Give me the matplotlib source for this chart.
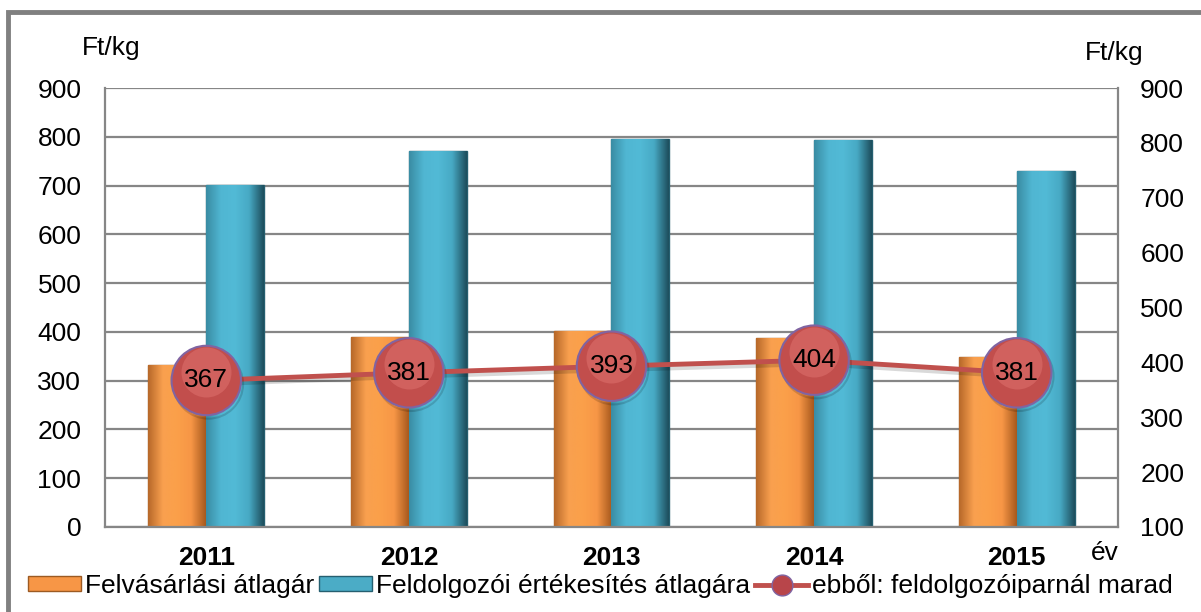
import numpy as np
import matplotlib
matplotlib.use("Agg")
import matplotlib.pyplot as plt
from matplotlib.colors import LinearSegmentedColormap
from matplotlib.lines import Line2D
from matplotlib.patches import Rectangle
import matplotlib.patheffects as pe
import matplotlib.transforms as mtransforms

plt.rcParams['font.family'] = ['Liberation Sans', 'DejaVu Sans']

years = ["2011", "2012", "2013", "2014", "2015"]
felvasarlasi = [332, 390, 401, 388, 348]
feldolgozoi = [701, 771, 795, 793, 730]
maradt = [367, 381, 393, 404, 381]

labels = ["Felvásárlási átlagár", "Feldolgozói értékesítés átlagára",
          "ebből: feldolgozóiparnál marad"]

ORANGE = "#F79646"
BLUE = "#4BACC6"
RED = "#C0504D"
GRID = "#868686"
FS = 19

orange_cmap = LinearSegmentedColormap.from_list(
    "o", ["#B8692A", "#F9A04F", "#FBA04A", "#F79646", "#A85A1E"])
blue_cmap = LinearSegmentedColormap.from_list(
    "b", ["#3A8DA4", "#50B6D2", "#52BAD6", "#47A9C4", "#1E4F5E"])


def shade_bars(ax, bars, cmap):
    grad = np.linspace(0, 1, 64).reshape(1, -1)
    for b in bars:
        x0, y0 = b.get_x(), b.get_y()
        w, h = b.get_width(), b.get_height()
        im = ax.imshow(grad, cmap=cmap, aspect='auto', extent=[x0, x0 + w, y0, y0 + h],
                       zorder=b.get_zorder() + 0.1, interpolation='bicubic')
        im.set_clip_path(b)


fig = plt.figure(figsize=(12.01, 6.12), dpi=100)
ax = fig.add_axes([0.0874, 0.1389, 0.8435, 0.7173])
ax2 = ax.twinx()

x = np.arange(len(years))
w = 0.286
b1 = ax.bar(x - w / 2, felvasarlasi, w, color=ORANGE, edgecolor="#9C5A22", linewidth=1.0, zorder=2)
b2 = ax.bar(x + w / 2, feldolgozoi, w, color=BLUE, edgecolor="#255F70", linewidth=1.0, zorder=2)
shade_bars(ax, b1, orange_cmap)
shade_bars(ax, b2, blue_cmap)

ax.set_xlim(-0.5, len(years) - 0.5)
ax.set_ylim(0, 900)
ax.set_yticks(np.arange(0, 901, 100))
ax.yaxis.grid(True, color=GRID, linewidth=1.6, zorder=0)
ax.set_axisbelow(True)
ax.set_xticks(x)
ax.set_xticklabels(years, fontsize=FS, fontweight='bold')
ax.tick_params(axis='x', length=0, pad=14)
ax.tick_params(axis='y', length=0, labelsize=FS, pad=17)
for s in ax.spines.values():
    s.set_color(GRID)
    s.set_linewidth(1.6)
ax.spines['top'].set_visible(False)

line, = ax2.plot(x, maradt, color=RED, linewidth=3.5, marker='o', markersize=50,
                 markerfacecolor="#C24E4C", markeredgecolor="#8064A2", markeredgewidth=1.5,
                 zorder=5, path_effects=[pe.SimpleLineShadow(offset=(1.5, -2.5), alpha=0.15), pe.Normal()])
# soft highlight on the upper part of each sphere
hl_shift = mtransforms.ScaledTranslation(0, 6 / 72, fig.dpi_scale_trans)
ax2.plot(x, maradt, linestyle='none', marker='o', markersize=36, markerfacecolor="#DC6E6B",
         markeredgecolor='none', alpha=0.6, zorder=5.5, transform=ax2.transData + hl_shift)
for xi, v in zip(x, maradt):
    ax2.text(xi, v, str(v), ha='center', va='center', fontsize=FS, color='black', zorder=6)
ax2.set_ylim(100, 900)
ax2.set_yticks(np.arange(100, 901, 100))
ax2.tick_params(axis='y', length=0, labelsize=FS, pad=16)
for s in ax2.spines.values():
    s.set_visible(False)

fig.text(0.068, 0.922, "Ft/kg", fontsize=FS, ha='left', va='center')
fig.text(0.903, 0.914, "Ft/kg", fontsize=FS, ha='left', va='center')
fig.text(0.908, 0.096, "év", fontsize=FS, ha='left', va='center')

# frame around the chart
fig.patches.append(Rectangle((8 / 1201, -0.05), 1.2, 1 - 12 / 612 + 0.05, transform=fig.transFigure,
                             fill=False, edgecolor="#808080", linewidth=3.5))

handles = [
    Rectangle((0, 0), 1, 1, facecolor=ORANGE, edgecolor="#9C5A22"),
    Rectangle((0, 0), 1, 1, facecolor=BLUE, edgecolor="#255F70"),
    Line2D([], [], color=RED, linewidth=3.5, marker='o', markersize=15,
           markerfacecolor="#B8454A", markeredgecolor="#8064A2"),
]
fig.legend(handles, labels, loc='center', bbox_to_anchor=(0.5, 0.042), ncol=3, frameon=False,
           fontsize=FS, handlelength=2.0, handleheight=0.5, handletextpad=0.15, columnspacing=0.2)

fig.savefig("out.png", dpi=100)
